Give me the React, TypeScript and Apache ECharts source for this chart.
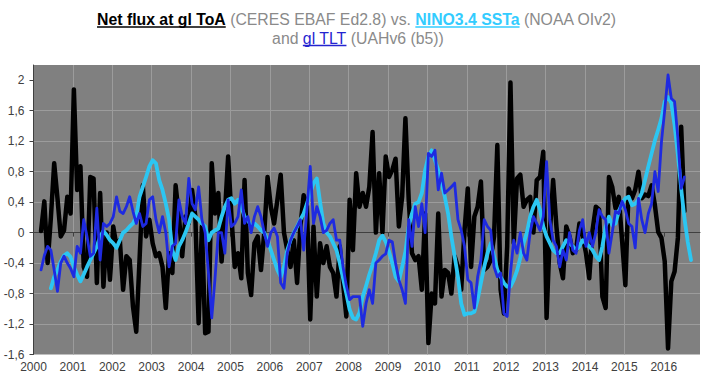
import React, { useEffect, useRef } from 'react';
import * as echarts from 'echarts';

// Month index counted from January 2000
const START_YEAR = 2000;

// Net flux at TOA (CERES EBAF Ed2.8), from March 2000
const netFluxStart = 2;
const netFlux = [
  0.02, 0.41, -0.4, 0.2, 0.91, 0.45, -0.05, 0.03, 0.47, 0.25,
  1.88, 0.56, 0.87, -0.45, -0.58, 0.73, 0.71, -0.66, 0.52, -0.71,
  0.0, -0.62, 0.08, -0.18, -0.1, -0.75, -0.31, -0.36, -0.97, -1.3,
  -0.36, 0.62, -0.05, 0.17, -0.14, -0.31, -0.27, -0.45, -0.99, -0.27,
  -0.53, 0.62, 0.21, -0.31, 0.21, 0.12, 0.56, 0.21, -1.19, 0.08,
  -1.32, -1.3, 0.91, 0.25, 0.52, -0.38, 0.25, 1.0, 0.21, -0.45,
  -0.27, -0.6, 0.69, -0.53, -0.82, -0.14, -0.05, -0.49, 0.0, 0.73,
  0.34, 0.12, 0.43, 0.76, 0.0, -0.23, -0.45, -0.1, -0.66, 0.08,
  0.49, 0.35, -1.14, 0.08, -0.84, -0.14, -0.4, -0.18, -0.45, -0.53,
  -0.84, -0.18, -0.66, -1.1, 0.43, -0.23, 0.78, 0.34, 0.52, 0.34,
  0.6, 1.32, 0.0, 0.78, 0.0, 1.0, 0.73, 0.82, 0.97, 0.08,
  0.47, 1.5, 0.43, -0.27, -0.36, -0.31, -0.75, 0.25, -1.45, -0.8,
  -0.93, 0.25, -0.84, -0.49, -0.53, -0.8, -0.31, -0.45, -0.75, 0.03,
  0.58, -0.45, 0.21, 0.34, 0.67, -0.49, -0.45, -0.36, -0.05, 1.15,
  -0.75, -1.06, -0.18, 1.97, -0.14, 0.71, 0.76, 0.34, 0.43, 0.47,
  0.0, 0.69, 0.73, 1.06, -1.12, 0.0, 0.69, 0.08, -0.4, -0.6,
  0.08, -0.05, -0.27, -0.23, 0.12, -0.05, -0.27, -0.6, 0.03, 0.34,
  0.3, -0.84, -0.99, 0.73, 0.6, 0.32, 0.47, -0.1, -0.69, 0.58,
  0.45, 0.56, 0.8, 0.45, 0.5, 0.48, 0.62, 0.36, 0.01, -0.07,
  -0.38, -1.52, -0.64, -0.51, -0.07, 1.39, 0.28,
];

// Global TLT (UAHv6 beta5), from March 2000
const tltStart = 2;
const tlt = [
  -0.49, -0.3, -0.18, -0.23, -0.49, -0.77, -0.4, -0.31, -0.4, -0.47,
  -0.58, -0.18, -0.27, 0.17, -0.05, -0.31, -0.27, 0.32, -0.36, 0.12,
  0.08, 0.12, 0.21, 0.47, 0.28, 0.25, 0.34, 0.47, 0.28, 0.12,
  0.25, 0.08, 0.12, 0.43, 0.47, 0.17, 0.0, 0.21, 0.0, -0.45,
  -0.18, -0.14, 0.43, 0.21, 0.12, 0.71, 0.38, 0.3, 0.6, 0.17,
  0.0, -0.53, -1.12, -0.6, 0.0, 0.0, -0.27, 0.43, 0.08, 0.12,
  0.21, 0.56, 0.12, 0.21, 0.0, 0.21, 0.34, 0.21, 0.0, -0.18,
  0.0, 0.06, -0.05, -0.66, -0.73, -0.27, -0.1, 0.0, 0.08, 0.17,
  -0.23, 0.3, 0.87, 0.12, 0.34, 0.21, 0.0, 0.03, 0.12, 0.17,
  -0.1, -0.1, -0.45, -0.7, -0.88, -0.84, -0.84, -0.84, -1.23, -0.93,
  -0.75, -0.93, -0.4, -0.36, -0.31, -0.28, -0.1, -0.12, -0.4, -0.62,
  -0.75, -0.93, 0.17, -0.18, 0.34, 0.08, 0.38, 0.0, 1.04, 1.0,
  1.08, 0.56, 0.78, 0.52, 0.56, 0.6, 0.65, 0.17, 0.03, -0.18,
  -0.62, -0.66, -0.99, -0.58, -0.36, 0.17, 0.08, 0.03, -0.45, -0.58,
  -0.53, -1.06, -1.1, -0.53, -0.1, -0.27, 0.0, -0.27, -0.36, 0.0,
  0.21, 0.12, 0.03, 0.21, 0.93, 0.17, -0.1, -0.18, -0.45, -0.23,
  -0.36, 0.0, -0.23, -0.27, 0.03, 0.17, -0.18, 0.0, -0.18, 0.0,
  0.3, 0.21, 0.17, -0.27, 0.0, 0.28, 0.25, 0.41, 0.3, 0.12,
  0.08, -0.2, 0.45, 0.17, 0.0, 0.25, 0.38, 0.8, 0.54, 1.19,
  1.61, 2.07, 1.76, 1.72, 1.24, 0.58, 0.73,
];

// NINO3.4 SSTa (NOAA OIv2), from June 2000
const ninoStart = 5;
const nino = [
  -0.73, -0.58, -0.49, -0.38, -0.3, -0.27, -0.32, -0.45, -0.55, -0.64,
  -0.55, -0.45, -0.36, -0.27, -0.18, -0.05, 0.02, -0.03, -0.1, -0.14,
  -0.2, -0.1, 0.0, 0.03, 0.08, 0.12, 0.21, 0.47, 0.6, 0.73,
  0.87, 0.95, 0.91, 0.69, 0.56, 0.38, 0.17, -0.23, -0.36, -0.18,
  -0.1, 0.0, 0.12, 0.25, 0.21, 0.17, 0.12, 0.08, -0.1, 0.0,
  0.03, 0.05, 0.21, 0.34, 0.43, 0.45, 0.38, 0.43, 0.34, 0.21,
  0.17, 0.08, 0.12, 0.08, 0.03, 0.0, -0.1, -0.23, -0.36, -0.49,
  -0.58, -0.45, -0.23, -0.1, 0.0, 0.08, 0.17, 0.25, 0.38, 0.52,
  0.65, 0.71, 0.4, 0.12, 0.0, -0.05, -0.14, -0.23, -0.4, -0.6,
  -0.8, -1.01, -1.12, -1.14, -1.05, -0.84, -0.7, -0.55, -0.42, -0.27,
  -0.1, -0.04, -0.12, -0.25, -0.4, -0.58, -0.64, -0.45, -0.25, 0.08,
  0.25, 0.38, 0.4, 0.52, 0.82, 1.0, 1.08, 0.95, 0.82, 0.65,
  0.47, 0.25, -0.05, -0.31, -0.58, -0.93, -1.08, -1.06, -1.06, -1.04,
  -0.88, -0.66, -0.45, -0.27, -0.14, -0.31, -0.49, -0.58, -0.66, -0.71,
  -0.71, -0.62, -0.5, -0.33, -0.14, 0.0, 0.21, 0.34, 0.43, 0.3,
  0.08, -0.05, -0.14, -0.23, -0.27, -0.27, -0.18, -0.1, -0.14, -0.18,
  -0.23, -0.18, -0.1, -0.14, -0.18, -0.23, -0.31, -0.36, -0.18, 0.08,
  0.21, 0.1, 0.12, 0.28, 0.38, 0.45, 0.47, 0.36, 0.38, 0.43,
  0.52, 0.69, 0.87, 1.04, 1.21, 1.35, 1.5, 1.72, 1.78, 1.7,
  1.41, 1.02, 0.58, 0.19, -0.12, -0.36,
];

const xYears = [2000, 2001, 2002, 2003, 2004, 2005, 2006, 2007, 2008, 2009, 2010, 2011, 2012, 2013, 2014, 2015, 2016];
const yTicks = [-1.6, -1.2, -0.8, -0.4, 0, 0.4, 0.8, 1.2, 1.6, 2];

const FAM = '"Liberation Sans", Arial, Helvetica, sans-serif';
const GREY = '#8a8a8a';

function toSeries(start: number, vals: number[]) {
  return vals.map((v, i) => [START_YEAR + (start + i + 0.3) / 12, v]);
}

function measure(text: string, font: string): number {
  const c = document.createElement('canvas').getContext('2d');
  if (!c) return text.length * 8;
  c.font = font;
  return c.measureText(text).width;
}

type Seg = { t: string; w: string; c: string; u?: boolean };

function layoutLine(segs: Seg[], cx: number, baseline: number, fs: number) {
  const sp = measure(' ', `normal ${fs}px ${FAM}`);
  const widths = segs.map((s) => measure(s.t, `${s.w} ${fs}px ${FAM}`));
  const total = widths.reduce((a, b) => a + b, 0) + sp * (segs.length - 1);
  let x = cx - total / 2;
  const els: any[] = [];
  segs.forEach((s, i) => {
    els.push({
      type: 'text',
      x,
      y: baseline - fs * 0.3465,
      silent: true,
      style: {
        text: s.t,
        fill: s.c,
        font: `${s.w} ${fs}px ${FAM}`,
        textAlign: 'left',
        textVerticalAlign: 'middle',
        verticalAlign: 'middle',
      },
    });
    if (s.u) {
      els.push({
        type: 'line',
        silent: true,
        shape: { x1: x, y1: baseline + 2, x2: x + widths[i], y2: baseline + 2 },
        style: { stroke: s.c, lineWidth: 1.4 },
      });
    }
    x += widths[i] + sp;
  });
  return els;
}

function fmtY(v: number) {
  const r = Math.round(v * 10) / 10;
  const s = Number.isInteger(r) ? String(r) : r.toFixed(1);
  return s.replace('.', ',');
}

export default function App() {
  const ref = useRef<HTMLDivElement>(null);

  useEffect(() => {
    if (!ref.current) return;
    const chart = echarts.init(ref.current, undefined, { renderer: 'svg' });
    const fs = 15.8;
    const title1 = layoutLine(
      [
        { t: 'Net flux at gl ToA', w: 'bold', c: '#000000', u: true },
        { t: '(CERES EBAF Ed2.8) vs.', w: 'normal', c: GREY },
        { t: 'NINO3.4 SSTa', w: 'bold', c: '#33ccff', u: true },
        { t: '(NOAA OIv2)', w: 'normal', c: GREY },
      ],
      357,
      25,
      fs
    );
    const title2 = layoutLine(
      [
        { t: 'and', w: 'normal', c: GREY },
        { t: 'gl TLT', w: 'normal', c: '#2424d0', u: true },
        { t: '(UAHv6 (b5))', w: 'normal', c: GREY },
      ],
      358,
      43.5,
      fs
    );

    chart.setOption({
      animation: false,
      backgroundColor: '#ffffff',
      graphic: { elements: [...title1, ...title2] },
      grid: {
        left: 33.5,
        right: 6,
        top: 65,
        bottom: 26.5,
        show: true,
        backgroundColor: '#808080',
        borderWidth: 0,
        containLabel: false,
      },
      xAxis: {
        type: 'value',
        min: 2000,
        max: 2016.92,
        interval: 1,
        axisLine: { show: true, lineStyle: { color: '#404040', width: 1 } },
        axisTick: { show: true, length: 4, customValues: xYears, lineStyle: { color: '#404040' } },
        axisLabel: {
          customValues: xYears,
          formatter: (v: number) => String(Math.round(v)),
          color: '#404040',
          fontSize: 12,
          fontFamily: FAM,
          margin: 6,
        },
        splitLine: {
          show: true,
          showMinLine: false,
          showMaxLine: false,
          lineStyle: { color: '#9c9c9c', width: 1 },
        },
      },
      yAxis: {
        type: 'value',
        min: -1.6,
        max: 2.2,
        interval: 0.4,
        axisLine: { show: true, lineStyle: { color: '#404040', width: 1 } },
        axisTick: { show: true, length: 4, customValues: yTicks, lineStyle: { color: '#404040' } },
        axisLabel: {
          customValues: yTicks,
          formatter: (v: number) => fmtY(v),
          color: '#404040',
          fontSize: 12,
          fontFamily: FAM,
          margin: 9,
        },
        splitLine: {
          show: true,
          showMinLine: false,
          showMaxLine: false,
          lineStyle: { color: '#9c9c9c', width: 1 },
        },
      },
      series: [
        {
          name: 'Net flux at gl ToA',
          type: 'line',
          data: toSeries(netFluxStart, netFlux),
          showSymbol: false,
          lineStyle: { color: '#000000', width: 4.5, join: 'round', cap: 'round' },
          itemStyle: { color: '#000000' },
        },
        {
          name: 'NINO3.4 SSTa',
          type: 'line',
          data: toSeries(ninoStart, nino),
          showSymbol: false,
          lineStyle: { color: '#2cc6f2', width: 3.8, join: 'round', cap: 'round' },
          itemStyle: { color: '#2cc6f2' },
        },
        {
          name: 'gl TLT',
          type: 'line',
          data: toSeries(tltStart, tlt),
          showSymbol: false,
          lineStyle: { color: '#1e2ae0', width: 2.8, join: 'round', cap: 'round' },
          itemStyle: { color: '#1e2ae0' },
        },
      ],
    });

    return () => {
      chart.dispose();
    };
  }, []);

  return (
    <div
      ref={ref}
      style={{ position: 'fixed', left: 0, top: 0, width: 706, height: 381, background: '#ffffff' }}
    />
  );
}
